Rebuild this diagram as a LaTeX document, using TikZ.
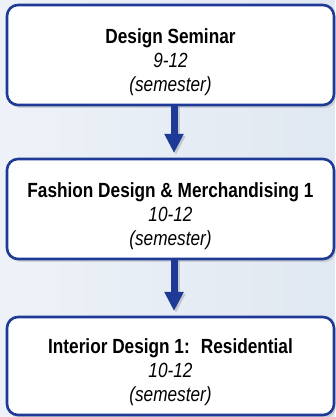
\documentclass[tikz,border=0pt]{standalone}
\usepackage{fontspec}
\setmainfont{Liberation Sans}[FakeStretch=0.84]
\usetikzlibrary{positioning,shadows,arrows.meta}

\definecolor{navy}{RGB}{31,58,150}
\definecolor{backlight}{RGB}{238,242,248}
\definecolor{backdark}{RGB}{224,232,241}

\tikzset{
  course/.style={draw=navy, line width=2.6pt, fill=white, rounded corners=11pt,
    minimum width=327pt, minimum height=100pt, inner sep=0pt, outer sep=0pt,
    drop shadow={shadow xshift=2pt, shadow yshift=-3pt, opacity=0.25}},
  coursetext/.style={align=center, inner sep=0pt, font=\fontsize{20.5}{24}\selectfont},
  flow/.style={navy, line width=7pt, -{Triangle[width=18pt,length=19pt]}},
  flowshadow/.style={black, opacity=0.15, line width=7pt, -{Triangle[width=18pt,length=19pt]}}
}

\begin{document}
\begin{tikzpicture}
    % Background
    \fill[left color=backlight, right color=backdark] (0,0) rectangle (335pt,417pt);
    \useasboundingbox (0,0) rectangle (335pt,417pt);

    % Course boxes
    \node[course] (seminar) at (170.5pt,362pt) {};
    \node[course, below=54pt of seminar] (fashion) {};
    \node[course, below=58pt of fashion, minimum height=98pt] (interior) {};

    % Course titles
    \node[coursetext] (seminar-txt) at ([yshift=-7pt]seminar.center)
      {\textbf{Design Seminar}\\ \textit{9-12}\\ \textit{(semester)}};
    \node[coursetext] (fashion-txt) at ([yshift=-7pt]fashion.center)
      {\textbf{Fashion Design \& Merchandising 1}\\ \textit{10-12}\\ \textit{(semester)}};
    \node[coursetext] (interior-txt) at ([yshift=-6pt]interior.center)
      {\textbf{Interior Design 1:~ Residential}\\ \textit{10-12}\\ \textit{(semester)}};

    % Arrows between courses
    \draw[flowshadow] ([xshift=5.5pt,yshift=-2pt]seminar.south) -- ([xshift=5.5pt,yshift=4pt]fashion.north);
    \draw[flowshadow] ([xshift=5.5pt,yshift=-2pt]fashion.south) -- ([xshift=5.5pt,yshift=4pt]interior.north);
    \draw[flow] ([xshift=3.5pt]seminar.south) -- ([xshift=3.5pt,yshift=6pt]fashion.north);
    \draw[flow] ([xshift=3.5pt]fashion.south) -- ([xshift=3.5pt,yshift=6pt]interior.north);
\end{tikzpicture}
\end{document}
